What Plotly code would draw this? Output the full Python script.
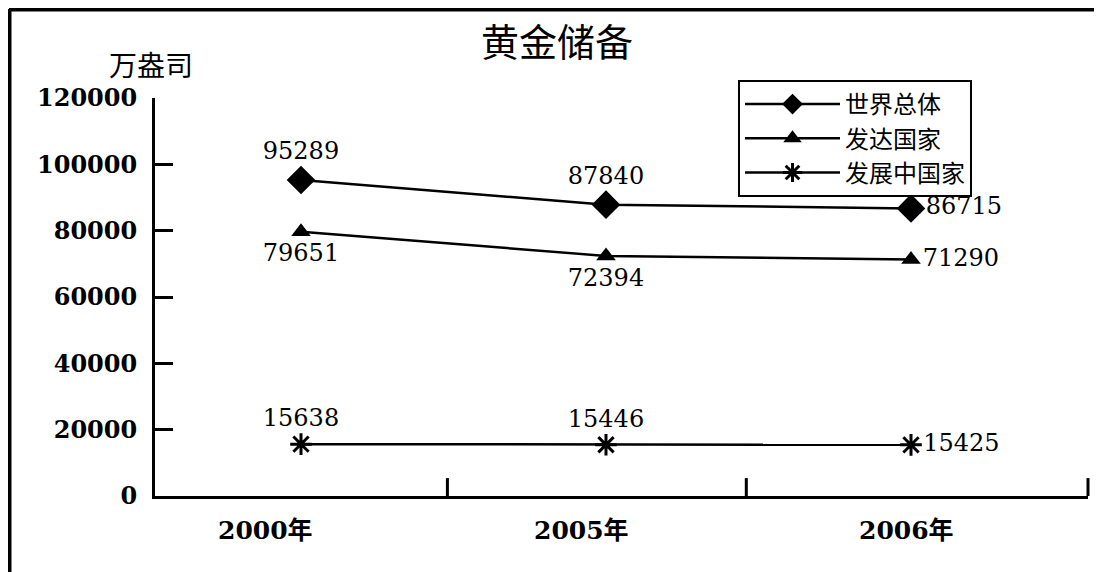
import plotly.graph_objects as go

categories = ["2000年", "2005年", "2006年"]
series_names = ["世界总体", "发达国家", "发展中国家"]
world = [95289, 87840, 86715]
developed = [79651, 72394, 71290]
developing = [15638, 15446, 15425]
y_ticks = [0, 20000, 40000, 60000, 80000, 100000, 120000]

SERIF = "DejaVu Serif, Noto Sans CJK SC, serif"
CJK = "Noto Sans CJK SC, sans-serif"

OFF = 8  # page body margin
PAGE_W, PAGE_H = 1102, 572
W, H = PAGE_W - OFF, PAGE_H - OFF
PL, PR, PT, PB = 155, 1088, 98, 496
L, R, T, B = PL - OFF, W - (PR - OFF), PT - OFF, H - (PB - OFF)
pw, ph = PR - PL, PB - PT

def px_x(p):
    return (p - PL) / pw

def px_y(p):
    return (PB - p) / ph

fig = go.Figure()

styles = [
    (world, dict(symbol="diamond", size=22), ["top center", "top center", "middle right"]),
    (developed, dict(symbol="triangle-up", size=17), ["bottom center", "bottom center", "middle right"]),
    (developing, dict(symbol="asterisk-open", size=18, line=dict(width=3, color="black")), ["top center", "top center", "middle right"]),
]

for name, (vals, marker, pos) in zip(series_names, styles):
    fig.add_trace(go.Scatter(
        x=categories, y=vals, name=name,
        mode="lines+markers+text",
        line=dict(color="black", width=2.5),
        marker=dict(color="black", **marker),
        text=[str(v) for v in vals],
        textposition=pos,
        textfont=dict(family=SERIF, size=24, color="black"),
        cliponaxis=False,
    ))

UNIT, C0 = 305, 301
x_start = -(C0 - PL) / UNIT
x_end = (PR - C0) / UNIT

shapes = [
    dict(type="line", xref="paper", yref="paper", x0=px_x(9), x1=px_x(1102), y0=px_y(9.5), y1=px_y(9.5),
         line=dict(color="black", width=4)),
    dict(type="line", xref="paper", yref="paper", x0=px_x(9.5), x1=px_x(9.5), y0=px_y(9), y1=px_y(572),
         line=dict(color="black", width=4)),
    dict(type="line", xref="x", yref="paper", x0=0.48, x1=0.48, y0=0, y1=0.045, line=dict(color="black", width=3)),
    dict(type="line", xref="x", yref="paper", x0=1.46, x1=1.46, y0=0, y1=0.045, line=dict(color="black", width=3)),
    dict(type="line", xref="paper", yref="paper", x0=1, x1=1, y0=0, y1=0.045, line=dict(color="black", width=3)),
]

annotations = [
    dict(text="黄金储备", xref="paper", yref="paper", x=px_x(557), y=px_y(40), showarrow=False,
         font=dict(family=CJK, size=38, color="black"), xanchor="center", yanchor="middle"),
    dict(text="万盎司", xref="paper", yref="paper", x=px_x(151), y=px_y(64), showarrow=False,
         font=dict(family=CJK, size=28, color="black"), xanchor="center", yanchor="middle"),
]
label_shift = [-36, -25, -5]
for cat, dx in zip(categories, label_shift):
    annotations.append(dict(
        text=cat, x=cat, xref="x", yref="paper", y=px_y(530), xshift=dx, showarrow=False,
        font=dict(family=SERIF, size=25, color="black", weight="bold"),
        xanchor="center", yanchor="middle",
    ))

fig.update_layout(
    width=W, height=H,
    margin=dict(l=L, r=R, t=T, b=B, pad=0),
    paper_bgcolor="white", plot_bgcolor="white",
    showlegend=True,
    legend=dict(
        x=px_x(738), y=px_y(80), xanchor="left", yanchor="top",
        bordercolor="black", borderwidth=2, bgcolor="white",
        font=dict(family=CJK, size=24, color="black"),
        tracegroupgap=0, itemwidth=95,
    ),
    shapes=shapes,
    annotations=annotations,
    xaxis=dict(
        type="category", range=[x_start, x_end],
        showline=True, linecolor="black", linewidth=3,
        showgrid=False, zeroline=False, ticks="", showticklabels=False,
    ),
    yaxis=dict(
        range=[0, 120000], tickvals=y_ticks, ticktext=[str(v) for v in y_ticks],
        showline=True, linecolor="black", linewidth=3,
        showgrid=False, zeroline=False,
        ticks="inside", ticklen=18, tickwidth=2.5, tickcolor="black",
        tickfont=dict(family=SERIF, size=24, color="black", weight="bold"),
        ticklabelstandoff=10,
    ),
)

fig.write_html("out.html")
